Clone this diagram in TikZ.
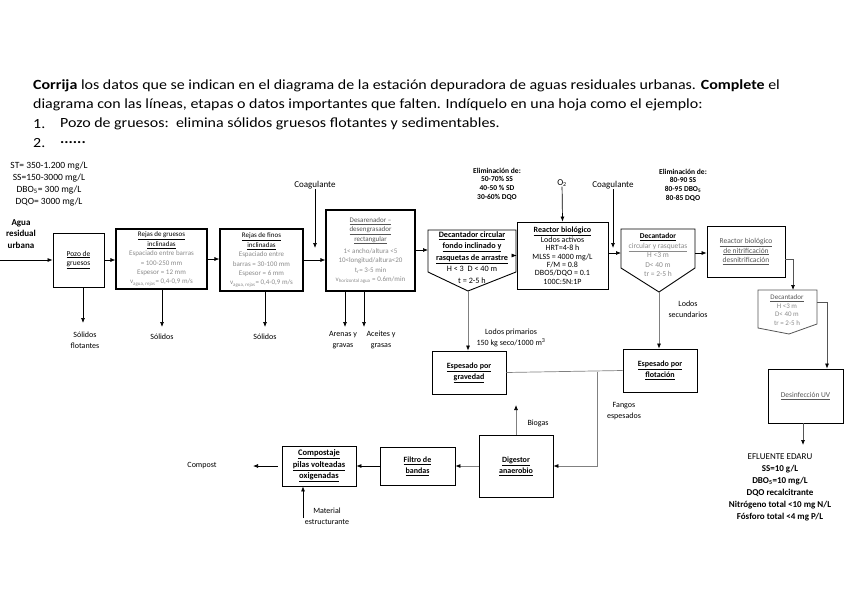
\documentclass[tikz,border=0pt]{standalone}
\usepackage{fontspec}
\setmainfont{Carlito}
\usetikzlibrary{arrows.meta}
\definecolor{tg}{HTML}{8A8A8A}
\definecolor{dg}{HTML}{555555}
\definecolor{lg}{HTML}{808080}
\newcommand{\myul}[1]{\underline{#1}}
\newcommand{\grt}[1]{\textcolor{tg}{#1}}
\newcommand{\hsc}[1]{\scalebox{1.14}[1]{#1}}
\begin{document}
\begin{tikzpicture}[x=1pt,y=-1pt,
 box/.style={draw, line width=0.8pt, inner sep=0pt, align=center},
 arr/.style={-{Latex[length=5pt,width=4pt,color=black]}, line width=0.7pt},
 garr/.style={arr, draw=lg},
 darr/.style={arr, draw=dg},
 gline/.style={line width=0.7pt, draw=lg},
 lbl/.style={align=center, inner sep=0pt, font=\fontsize{8}{11}\selectfont},
 hdr/.style={anchor=west, inner sep=0pt, font=\fontsize{14}{15}\selectfont}
]
\useasboundingbox (0,0) rectangle (848,599);

% header
\node[hdr] (h1) at (33,86) {\hsc{\textbf{Corrija} los datos que se indican en el diagrama de la estación depuradora de aguas residuales urbanas. \textbf{Complete} el}};
\node[hdr] (h2) at (33,105) {\hsc{diagrama con las líneas, etapas o datos importantes que falten. Indíquelo en una hoja como el ejemplo:}};
\node[hdr] (h3n) at (33,124) {\hsc{1.}};
\node[hdr] (h3) at (60,124) {\hsc{Pozo de gruesos:\ \ elimina sólidos gruesos flotantes y sedimentables.}};
\node[hdr] (h4n) at (33,143) {\hsc{2.}};
\node[hdr] (h4) at (60,143) {\hsc{\textbf{......}}};

% input data
\node[lbl, font=\fontsize{9.5}{11.7}\selectfont] (inp) at (49,184) {ST= 350-1.200 mg/L\\SS=150-3000 mg/L\\DBO\textsubscript{5}= 300 mg/L\\DQO= 3000 mg/L};
\node[lbl, font=\bfseries\fontsize{9}{11.5}\selectfont] (agua) at (21,234) {Agua\\residual\\urbana};
\coordinate (in) at (0,260);

% boxes
\node[box, minimum width=51, minimum height=54, font=\fontsize{7.5}{9.5}\selectfont] (pozo) at (78.5,260) {\myul{Pozo de}\\\myul{gruesos}};
\node[box, line width=1.1pt, minimum width=91, minimum height=60, font=\fontsize{7}{9.4}\selectfont] (rg) at (161.5,259) {\myul{Rejas de gruesos}\\\myul{inclinadas}\\\grt{Espaciado entre barras}\\\grt{= 100-250 mm}\\\grt{Espesor = 12 mm}\\\grt{v\textsubscript{agua, rejas}= 0,4-0,9 m/s}};
\node[box, line width=1.1pt, minimum width=83, minimum height=62, font=\fontsize{7}{9.4}\selectfont] (rf) at (261.5,260) {\myul{Rejas de finos}\\\myul{inclinadas}\\\grt{Espaciado entre}\\\grt{barras = 30-100 mm}\\\grt{Espesor = 6 mm}\\\grt{v\textsubscript{agua, rejas}= 0,4-0,9 m/s}};
\node[box, line width=1.1pt, minimum width=89, minimum height=81, font=\fontsize{7}{9.4}\selectfont] (des) at (370.5,250.5) {\textcolor{dg}{\myul{Desarenador –}}\\\textcolor{dg}{\myul{desengrasador}}\\\textcolor{dg}{\myul{rectangular}}\\[3pt]\grt{1< ancho/altura <5}\\\grt{10<longitud/altura<20}\\\grt{t\textsubscript{r}= 3-5 min}\\\grt{v\textsubscript{horizontal agua} = 0.6m/min}};

% decantador circular (pentagon)
\draw[line width=0.9pt] (428,230) -- (516,230) -- (516,272) -- (468,291) -- (428,272) -- cycle;
\node[lbl, font=\fontsize{8.2}{11.5}\selectfont] (dc1) at (472,257.5) {\textbf{\myul{Decantador circular}}\\\textbf{\myul{fondo inclinado y}}\\\textbf{\myul{rasquetas de arrastre}}\\H < 3\ \ D < 40 m\\t = 2-5 h};
\coordinate (dc1w) at (428,250);
\coordinate (dc1e) at (516,255.5);
\coordinate (dc1b) at (468,291);

\node[box, minimum width=91, minimum height=67, font=\fontsize{8}{8.4}\selectfont] (reac) at (562.5,255.5) {\textbf{\myul{Reactor biológico}}\\Lodos activos\\HRT=4-8 h\\MLSS = 4000 mg/L\\F/M = 0.8\\DBO5/DQO = 0.1\\100C:5N:1P};

% decantador 2
\draw[line width=0.9pt] (621,229) -- (695,229) -- (695,268) -- (659,292) -- (621,268) -- cycle;
\node[lbl, font=\fontsize{7.5}{9.5}\selectfont] (dc2) at (658,255) {\textbf{\myul{Decantador}}\\\textcolor{tg}{\myul{circular y rasquetas}}\\\grt{H <3 m}\\\grt{D< 40 m}\\\grt{tr = 2-5 h}};
\coordinate (dc2w) at (621,253);
\coordinate (dc2e) at (695,253);
\coordinate (dc2b) at (659,292);

\node[box, minimum width=78, minimum height=51, font=\fontsize{7.5}{9.5}\selectfont] (nitr) at (746,251.5) {\textcolor{dg}{\myul{Reactor biológico}}\\\textcolor{dg}{\myul{de nitrificación}}\\\textcolor{dg}{\myul{desnitrificación}}};

% decantador 3
\draw[line width=0.8pt, draw=dg] (758,290) -- (817,290) -- (817,324) -- (789,334) -- (758,328) -- cycle;
\node[lbl, font=\fontsize{7}{8.7}\selectfont] (dc3) at (787,310) {\textcolor{dg}{\myul{Decantador}}\\\grt{H <3 m}\\\grt{D< 40 m}\\\grt{tr = 2-5 h}};
\coordinate (dc3n) at (793,290);
\coordinate (dc3e) at (817,302);

\node[box, minimum width=75, minimum height=54, font=\fontsize{7.5}{9.5}\selectfont] (desinf) at (805.5,396) {\textcolor{dg}{\myul{Desinfección UV}}};

\node[lbl, font=\fontsize{9}{12}\selectfont] (efl) at (780,487) {EFLUENTE EDARU\\\textbf{SS=10 g/L}\\\textbf{DBO\textsubscript{5}=10 mg/L}\\\textbf{DQO recalcitrante}\\\textbf{Nitrógeno total <10 mg N/L}\\\textbf{Fósforo total <4 mg P/L}};

% sludge line
\node[box, minimum width=74, minimum height=43, font=\bfseries\fontsize{8}{11}\selectfont] (eg) at (469,372.5) {\myul{Espesado por}\\\myul{gravedad}};
\node[box, minimum width=74, minimum height=43, font=\bfseries\fontsize{8}{11}\selectfont] (ef) at (660,370.5) {\myul{Espesado por}\\\myul{flotación}};
\node[box, minimum width=74, minimum height=62, font=\bfseries\fontsize{8}{11}\selectfont] (dig) at (516,466) {\myul{Digestor}\\\myul{anaerobio}};
\node[box, minimum width=75, minimum height=38, font=\bfseries\fontsize{8}{11}\selectfont] (filt) at (417.5,466) {\myul{Filtro de}\\\myul{bandas}};
\node[box, minimum width=74, minimum height=40, font=\bfseries\fontsize{8.5}{11.5}\selectfont] (comp) at (319,466) {\myul{Compostaje}\\\myul{pilas volteadas}\\\myul{oxigenadas}};

% labels
\node[lbl] (sf) at (85,340) {Sólidos\\flotantes};
\node[lbl] (s1) at (162,337) {Sólidos};
\node[lbl] (s2) at (265,337) {Sólidos};
\node[lbl] (ag) at (343,340) {Arenas y\\gravas};
\node[lbl] (acg) at (381,340) {Aceites y\\grasas};
\node[lbl, font=\fontsize{9}{11}\selectfont] (coag1) at (315,185) {Coagulante};
\node[lbl, font=\fontsize{9}{11}\selectfont] (o2) at (562,183) {O\textsubscript{2}};
\node[lbl, font=\fontsize{9}{11}\selectfont] (coag2) at (613,185) {Coagulante};
\node[lbl, font=\bfseries\fontsize{7.5}{8.7}\selectfont] (elim1) at (497,184) {Eliminación de:\\50-70\% SS\\40-50 \% SD\\30-60\% DQO};
\node[lbl, font=\bfseries\fontsize{7.5}{8.7}\selectfont] (elim2) at (683,185) {Eliminación de:\\80-90 SS\\80-95 DBO\textsubscript{5}\\80-85 DQO};
\node[lbl] (lp) at (511,338) {Lodos primarios\\150 kg seco/1000 m\textsuperscript{3}};
\node[lbl] (ls) at (688,309) {Lodos\\secundarios};
\node[lbl] (fe) at (624,411) {Fangos\\espesados};
\node[lbl] (bio) at (538,423) {Biogas};
\node[lbl] (cpt) at (202,466) {Compost};
\node[lbl] (mat) at (327,516) {Material\\estructurante};

% free ends
\coordinate (sfT) at (83,323);
\coordinate (s1T) at (162,327);
\coordinate (s2T) at (265,327);
\coordinate (agT) at (345,327);
\coordinate (acT) at (364,327);
\coordinate (c1T) at (315,248);
\coordinate (c2T) at (613,248);
\coordinate (bioT) at (516,405);
\coordinate (cptT) at (253,466);
\coordinate (matB) at (303,518);
\coordinate (k1) at (793,259);
\coordinate (k2) at (827,302);
\coordinate (j1) at (597,371.5);
\coordinate (efT) at (803,445);

% connectors
\draw[arr] (in) -- (pozo.west);
\draw[arr] (pozo.south -| sfT) -- (sfT);
\draw[arr] (pozo.east) -- (pozo.east -| rg.west);
\draw[arr] (rg.south -| s1T) -- (s1T);
\draw[arr] (rg.east) -- (rg.east -| rf.west);
\draw[arr] (rf.south -| s2T) -- (s2T);
\draw[arr] (rf.east) -- (rf.east -| des.west);
\draw[arr] (coag1) -- (c1T);
\draw[arr] (des.south -| agT) -- (agT);
\draw[arr] (des.south -| acT) -- (acT);
\draw[arr] (des.east |- dc1w) -- (dc1w);
\draw[arr] (dc1e) -- (dc1e -| reac.west);
\draw[arr] (o2) -- (reac.north);
\draw[arr] (reac.east |- dc2w) -- (dc2w);
\draw[arr] (coag2) -- (c2T);
\draw[arr] (dc2e) -- (dc2e -| nitr.west);
\draw[darr] (nitr.east |- k1) -- (k1) -- (dc3n);
\draw[darr] (dc3e) -- (k2) -- (k2 |- desinf.north);
\draw[darr] (desinf.south -| efT) -- (efT);
\draw[garr] (dc1b) -- (dc1b |- eg.north);
\draw[garr] (dc2b) -- (dc2b |- ef.north);
\draw[gline] (eg.east) -- (ef.west);
\draw[garr] (j1) -- (j1 |- dig.east) -- (dig.east);
\draw[garr] (dig.north) -- (bioT);
\draw[garr] (dig.west) -- (filt.east);
\draw[arr] (filt.west) -- (comp.east);
\draw[arr] ([xshift=-4pt]comp.west) -- (cptT);
\draw[arr] (matB) -- (matB |- comp.south);
\end{tikzpicture}
\end{document}
